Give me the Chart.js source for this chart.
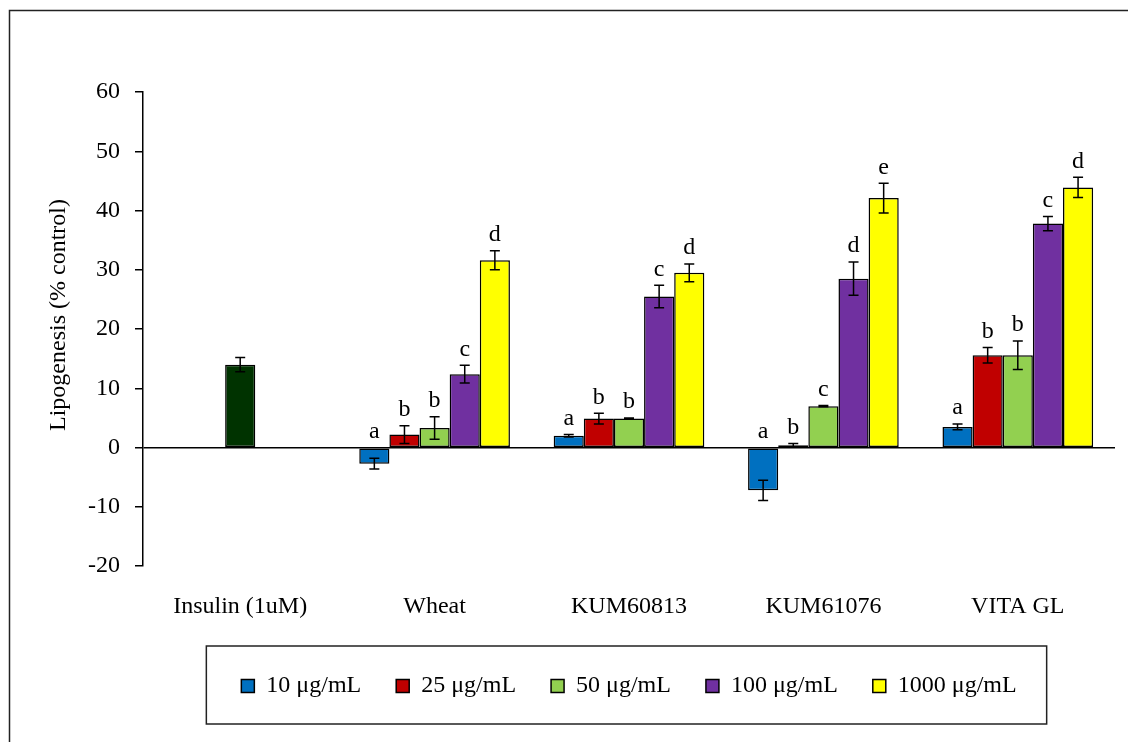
<!DOCTYPE html>
<html>
<head>
<meta charset="utf-8">
<script src="https://cdn.jsdelivr.net/npm/chart.js@4.4.0/dist/chart.umd.min.js"></script>
<style>
  body { margin: 0; background: #fff; }
  canvas { display: block; }
</style>
</head>
<body>
<canvas id="lipoChart" width="1128" height="742"></canvas>
<script>
const groups = ['Insulin (1uM)', 'Wheat', 'KUM60813', 'KUM61076', 'VITA GL'];
const doses = ['10 μg/mL', '25 μg/mL', '50 μg/mL', '100 μg/mL', '1000 μg/mL'];
const doseColors = ['#0070C0', '#C00000', '#92D050', '#7030A0', '#FFFF00'];
const insulinColor = '#003300';

// lipogenesis, % of control (insulin sits in the middle series)
const dose10 = [null, -2.7, 2.0, -7.2, 3.5];
const dose25 = [null, 2.2, 4.9, 0.4, 15.6];
const dose50 = [14.0, 3.3, 4.9, 7.0, 15.6];
const dose100 = [null, 12.4, 25.5, 28.5, 37.8];
const dose1000 = [null, 31.6, 29.5, 42.1, 43.9];

// standard error
const err10 = [null, 0.9, 0.2, 1.7, 0.5];
const err25 = [null, 1.5, 0.9, 0.3, 1.3];
const err50 = [1.2, 1.9, 0.1, 0.1, 2.4];
const err100 = [null, 1.5, 1.9, 2.8, 1.2];
const err1000 = [null, 1.6, 1.5, 2.5, 1.7];

// significance letters
const sig10 = ['', 'a', 'a', 'a', 'a'];
const sig25 = ['', 'b', 'b', 'b', 'b'];
const sig50 = ['', 'b', 'b', 'c', 'b'];
const sig100 = ['', 'c', 'c', 'd', 'c'];
const sig1000 = ['', 'd', 'd', 'e', 'd'];

const yTicks = { min: -20, max: 60, step: 10 };
const yTitle = 'Lipogenesis (% control)';

const series = [dose10, dose25, dose50, dose100, dose1000];
const errors = [err10, err25, err50, err100, err1000];
const letters = [sig10, sig25, sig50, sig100, sig1000];

const FONT = 'Liberation Serif, Times New Roman, serif';
const FSIZE = 24;

const datasets = series.map((values, i) => ({
  label: doses[i],
  data: values,
  backgroundColor: i === 2
    ? (ctx => ctx.dataIndex === 0 ? insulinColor : doseColors[i])
    : doseColors[i],
  borderColor: '#000',
  borderWidth: 1.5,
  borderSkipped: false,
  categoryPercentage: 0.775,
  barPercentage: 1.0
}));

// white page with the frame line
const pageFrame = {
  id: 'pageFrame',
  beforeDraw(chart) {
    const c = chart.ctx;
    c.save();
    c.fillStyle = '#fff';
    c.fillRect(0, 0, chart.width, chart.height);
    c.strokeStyle = '#222';
    c.lineWidth = 1.5;
    c.strokeRect(9.5, 10.5, chart.width + 20, chart.height + 20);
    c.restore();
  }
};

const errorBars = {
  id: 'errorBars',
  afterDatasetsDraw(chart) {
    const c = chart.ctx;
    const y = chart.scales.y;
    c.save();
    c.strokeStyle = '#000';
    c.lineWidth = 1.5;
    errors.forEach((errs, i) => {
      const meta = chart.getDatasetMeta(i);
      errs.forEach((e, j) => {
        const v = series[i][j];
        if (v == null || e == null) return;
        const x = meta.data[j].x;
        const top = y.getPixelForValue(v + e);
        const bot = y.getPixelForValue(v - e);
        c.beginPath();
        c.moveTo(x, top); c.lineTo(x, bot);
        c.moveTo(x - 5, top); c.lineTo(x + 5, top);
        c.moveTo(x - 5, bot); c.lineTo(x + 5, bot);
        c.stroke();
      });
    });
    c.restore();
  }
};

const sigLetters = {
  id: 'sigLetters',
  afterDatasetsDraw(chart) {
    const c = chart.ctx;
    const y = chart.scales.y;
    c.save();
    c.fillStyle = '#000';
    c.font = FSIZE + 'px ' + FONT;
    c.textAlign = 'center';
    c.textBaseline = 'middle';
    letters.forEach((marks, i) => {
      const meta = chart.getDatasetMeta(i);
      marks.forEach((m, j) => {
        if (!m) return;
        const v = series[i][j];
        const top = Math.max(v + (errors[i][j] || 0), 0);
        c.fillText(m, meta.data[j].x, y.getPixelForValue(top) - 16);
      });
    });
    c.restore();
  }
};

const axisTitle = {
  id: 'axisTitle',
  afterDraw(chart) {
    const c = chart.ctx;
    c.save();
    c.translate(59, 315);
    c.rotate(-Math.PI / 2);
    c.fillStyle = '#000';
    c.font = FSIZE + 'px ' + FONT;
    c.textAlign = 'center';
    c.textBaseline = 'middle';
    c.fillText(yTitle, 0, 0);
    c.restore();
  }
};

// box around the legend row
const legendFrame = {
  id: 'legendFrame',
  afterDraw(chart) {
    const boxes = chart.legend.legendHitBoxes;
    if (!boxes || !boxes.length) return;
    const first = boxes[0], last = boxes[boxes.length - 1];
    const cy = first.top + first.height / 2;
    const c = chart.ctx;
    c.save();
    c.strokeStyle = '#222';
    c.lineWidth = 1.5;
    c.strokeRect(first.left - 35, cy - 40, last.left + last.width + 30 - (first.left - 35), 78);
    c.restore();
  }
};

new Chart(document.getElementById('lipoChart'), {
  type: 'bar',
  data: { labels: groups, datasets: datasets },
  plugins: [pageFrame, errorBars, sigLetters, axisTitle, legendFrame],
  options: {
    responsive: false,
    animation: false,
    layout: { padding: { top: 92, left: 0, right: 13, bottom: 34 } },
    scales: {
      x: {
        grid: { display: false, drawTicks: false },
        border: { display: false },
        ticks: { color: '#000', padding: 26, maxRotation: 0, font: { family: FONT, size: FSIZE } },
        afterFit(scale) { scale.height -= 8; }
      },
      y: {
        min: yTicks.min,
        max: yTicks.max,
        afterFit(scale) { scale.width = 143; },
        ticks: { stepSize: yTicks.step, color: '#000', padding: 15, font: { family: FONT, size: FSIZE } },
        grid: {
          color: ctx => ctx.tick && ctx.tick.value === 0 ? '#000' : 'rgba(0,0,0,0)',
          lineWidth: 1.5,
          drawTicks: true,
          tickLength: 8,
          tickColor: '#000',
          tickWidth: 1.5
        },
        border: { display: true, color: '#000', width: 1.5 }
      }
    },
    plugins: {
      legend: {
        position: 'bottom',
        fullSize: false,
        labels: {
          boxWidth: 13,
          boxHeight: 13,
          padding: 35,
          color: '#000',
          font: { family: FONT, size: FSIZE },
          generateLabels(chart) {
            const items = Chart.defaults.plugins.legend.labels.generateLabels(chart);
            items.forEach((it, i) => { it.fillStyle = doseColors[i]; });
            return items;
          }
        }
      },
      tooltip: { enabled: false }
    }
  }
});
</script>
</body>
</html>
